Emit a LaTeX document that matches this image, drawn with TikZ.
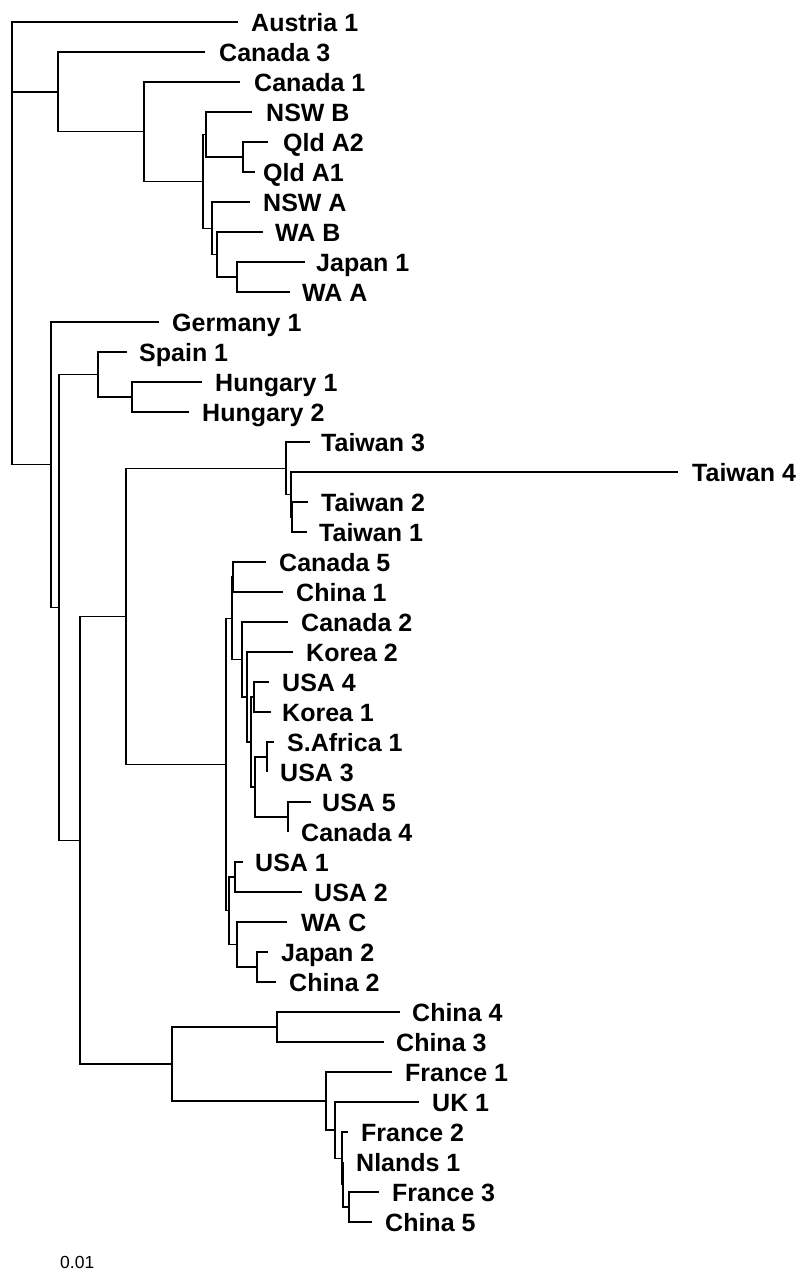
\documentclass[tikz,border=0pt]{standalone}
\usepackage{fontspec}
\setmainfont{Liberation Sans}
\newcommand\mkleaf[5]{\coordinate (#1) at (#2,#3); \node[lab] (#1-l) at (#4,#3) {#5};}
\begin{document}
\begin{tikzpicture}[x=1pt,y=-1pt,
  br/.style={draw=black,line width=1.3pt},
  lab/.style={anchor=base west,inner sep=0pt,yshift=-9pt,font=\bfseries\fontsize{25}{25}\selectfont},
  scl/.style={anchor=base west,inner sep=0pt,font=\fontsize{17.5}{17.5}\selectfont}]
\useasboundingbox (0,0) rectangle (806,1272);
% internal nodes
\coordinate (root) at (12,243);
\coordinate (A)  at (58,91.85);
\coordinate (B1) at (144,131.7);
\coordinate (B2) at (203,181.4);
\coordinate (B3) at (206,134.5);
\coordinate (Q)  at (243,157);
\coordinate (B4) at (212,228.25);
\coordinate (B5) at (217,254.5);
\coordinate (B6) at (237,277);
\coordinate (C1) at (51,464.7);
\coordinate (C2) at (59,607.4);
\coordinate (SH) at (98,374.5);
\coordinate (H)  at (132,397);
\coordinate (C3) at (80,840.2);
\coordinate (C4) at (126,616.4);
\coordinate (T)  at (286,468.25);
\coordinate (T2n) at (291,494.5);
\coordinate (T3n) at (292,517);
\coordinate (N1) at (226,764.5);
\coordinate (N2) at (232,618.25);
\coordinate (CC1) at (233,577);
\coordinate (N4) at (242,659.5);
\coordinate (N5) at (247,697);
\coordinate (N6) at (251,742);
\coordinate (UK) at (254,697);
\coordinate (N7) at (255,787);
\coordinate (SAU) at (267,757);
\coordinate (UC) at (288,817);
\coordinate (N3) at (229,910.75);
\coordinate (NU) at (235,877);
\coordinate (N9) at (237,944.5);
\coordinate (JC) at (257,967);
\coordinate (C5) at (172,1064);
\coordinate (CC) at (277,1027);
\coordinate (FR) at (326,1101);
\coordinate (F2) at (335,1130.1);
\coordinate (F3) at (342,1158.25);
\coordinate (F4) at (343,1184.5);
\coordinate (FC) at (349,1207);
% leaves
\mkleaf{aus1}{238}{22}{251}{Austria 1}
\mkleaf{can3}{205}{52}{219}{Canada 3}
\mkleaf{can1}{240}{82}{254}{Canada 1}
\mkleaf{nswb}{252}{112}{266}{NSW B}
\mkleaf{qa2}{268}{142}{283}{Qld A2}
\mkleaf{qa1}{255}{172}{263}{Qld A1}
\mkleaf{nswa}{250}{202}{263}{NSW A}
\mkleaf{wab}{263}{232}{275}{WA B}
\mkleaf{jap1}{305}{262}{316}{Japan 1}
\mkleaf{waa}{290}{292}{302}{WA A}
\mkleaf{ger1}{159}{322}{172}{Germany 1}
\mkleaf{spa1}{127}{352}{139}{Spain 1}
\mkleaf{hun1}{202}{382}{215}{Hungary 1}
\mkleaf{hun2}{189}{412}{202}{Hungary 2}
\mkleaf{tai3}{310}{442}{321}{Taiwan 3}
\mkleaf{tai4}{678}{472}{692}{Taiwan 4}
\mkleaf{tai2}{308}{502}{321}{Taiwan 2}
\mkleaf{tai1}{307}{532}{319}{Taiwan 1}
\mkleaf{can5}{266}{562}{279}{Canada 5}
\mkleaf{chi1}{283}{592}{296}{China 1}
\mkleaf{can2}{288}{622}{301}{Canada 2}
\mkleaf{kor2}{293}{652}{306}{Korea 2}
\mkleaf{usa4}{269}{682}{282}{USA 4}
\mkleaf{kor1}{271}{712}{282}{Korea 1}
\mkleaf{saf1}{274}{742}{287}{S.Africa 1}
\mkleaf{usa3}{267}{772}{280}{USA 3}
\mkleaf{usa5}{311}{802}{322}{USA 5}
\mkleaf{can4}{288}{832}{301}{Canada 4}
\mkleaf{usa1}{243}{862}{255}{USA 1}
\mkleaf{usa2}{302}{892}{314}{USA 2}
\mkleaf{wac}{287}{922}{301}{WA C}
\mkleaf{jap2}{268}{952}{281}{Japan 2}
\mkleaf{chi2}{276}{982}{289}{China 2}
\mkleaf{chi4}{400}{1012}{412}{China 4}
\mkleaf{chi3}{384}{1042}{396}{China 3}
\mkleaf{fra1}{392}{1072}{405}{France 1}
\mkleaf{uk1}{419}{1102}{432}{UK 1}
\mkleaf{fra2}{348}{1132}{361}{France 2}
\mkleaf{nl1}{343}{1162}{356}{Nlands 1}
\mkleaf{fra3}{379}{1192}{392}{France 3}
\mkleaf{chi5}{372}{1222}{385}{China 5}
% branches
\draw[br] (root) |- (aus1); \draw[br] (root) |- (A); \draw[br] (root) |- (C1);
\draw[br] (A) |- (can3); \draw[br] (A) |- (B1);
\draw[br] (B1) |- (can1); \draw[br] (B1) |- (B2);
\draw[br] (B2) |- (B3); \draw[br] (B2) |- (B4);
\draw[br] (B3) |- (nswb); \draw[br] (B3) |- (Q);
\draw[br] (Q) |- (qa2); \draw[br] (Q) |- (qa1);
\draw[br] (B4) |- (nswa); \draw[br] (B4) |- (B5);
\draw[br] (B5) |- (wab); \draw[br] (B5) |- (B6);
\draw[br] (B6) |- (jap1); \draw[br] (B6) |- (waa);
\draw[br] (C1) |- (ger1); \draw[br] (C1) |- (C2);
\draw[br] (C2) |- (SH); \draw[br] (C2) |- (C3);
\draw[br] (SH) |- (spa1); \draw[br] (SH) |- (H);
\draw[br] (H) |- (hun1); \draw[br] (H) |- (hun2);
\draw[br] (C3) |- (C4); \draw[br] (C3) |- (C5);
\draw[br] (C4) |- (T); \draw[br] (C4) |- (N1);
\draw[br] (T) |- (tai3); \draw[br] (T) |- (T2n);
\draw[br] (T2n) |- (tai4); \draw[br] (T2n) |- (T3n);
\draw[br] (T3n) |- (tai2); \draw[br] (T3n) |- (tai1);
\draw[br] (N1) |- (N2); \draw[br] (N1) |- (N3);
\draw[br] (N2) |- (CC1); \draw[br] (N2) |- (N4);
\draw[br] (CC1) |- (can5); \draw[br] (CC1) |- (chi1);
\draw[br] (N4) |- (can2); \draw[br] (N4) |- (N5);
\draw[br] (N5) |- (kor2); \draw[br] (N5) |- (N6);
\draw[br] (N6) |- (UK); \draw[br] (N6) |- (N7);
\draw[br] (UK) |- (usa4); \draw[br] (UK) |- (kor1);
\draw[br] (N7) |- (SAU); \draw[br] (N7) |- (UC);
\draw[br] (SAU) |- (saf1); \draw[br] (SAU) |- (usa3);
\draw[br] (UC) |- (usa5); \draw[br] (UC) |- (can4);
\draw[br] (N3) |- (NU); \draw[br] (N3) |- (N9);
\draw[br] (NU) |- (usa1); \draw[br] (NU) |- (usa2);
\draw[br] (N9) |- (wac); \draw[br] (N9) |- (JC);
\draw[br] (JC) |- (jap2); \draw[br] (JC) |- (chi2);
\draw[br] (C5) |- (CC); \draw[br] (C5) |- (FR);
\draw[br] (CC) |- (chi4); \draw[br] (CC) |- (chi3);
\draw[br] (FR) |- (fra1); \draw[br] (FR) |- (F2);
\draw[br] (F2) |- (uk1); \draw[br] (F2) |- (F3);
\draw[br] (F3) |- (fra2); \draw[br] (F3) |- (F4);
\draw[br] (F4) |- (nl1); \draw[br] (F4) |- (FC);
\draw[br] (FC) |- (fra3); \draw[br] (FC) |- (chi5);
% scale label
\node[scl] (scale) at (60,1268) {0.01};
\end{tikzpicture}
\end{document}
